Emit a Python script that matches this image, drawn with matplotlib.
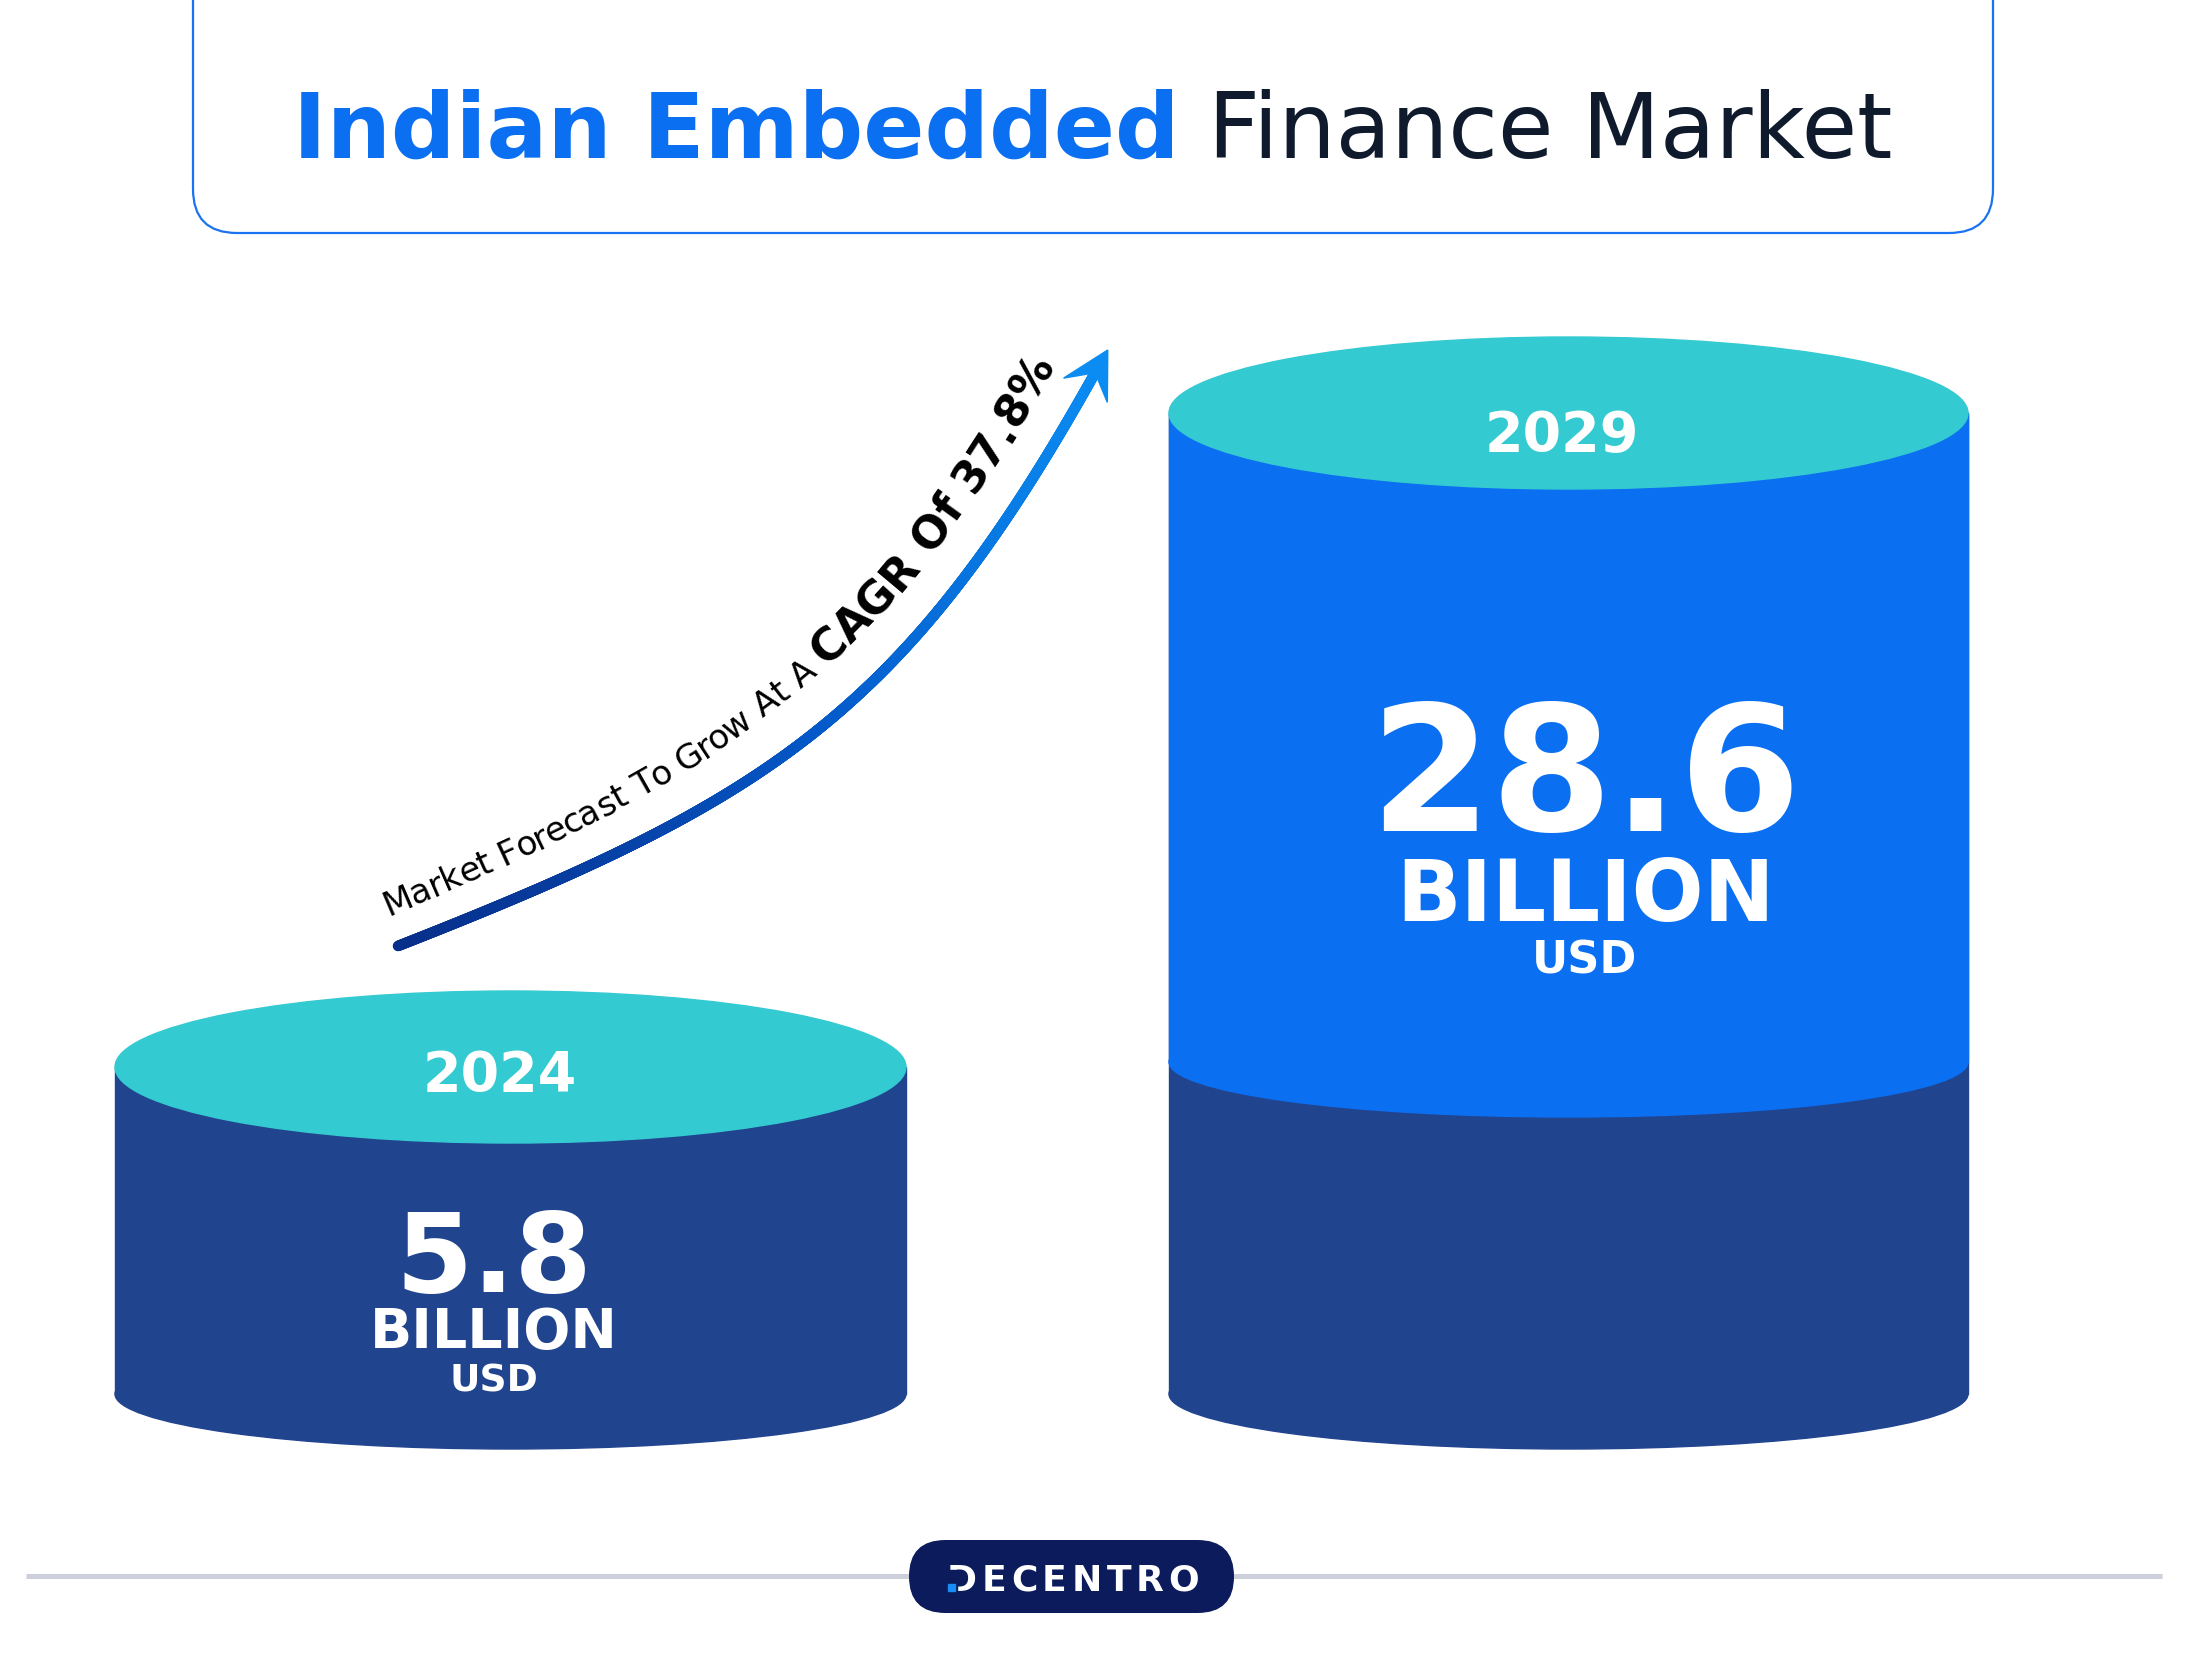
import numpy as np
import matplotlib
matplotlib.use('Agg')
import matplotlib.pyplot as plt
from matplotlib.patches import Ellipse, Rectangle, FancyBboxPatch, Polygon
from matplotlib.collections import LineCollection
from matplotlib.colors import LinearSegmentedColormap
from matplotlib.font_manager import FontProperties

# ---- data ----
title_bold = 'Indian Embedded'
title_regular = 'Finance Market'
years = ['2024', '2029']
values = [5.8, 28.6]
unit = 'BILLION'
currency = 'USD'
cagr = 37.8
growth_lead = 'Market Forecast To Grow At A '
growth_main = f'CAGR Of {cagr}%'
brand = 'DECENTRO'

# ---- style ----
FONT = 'DejaVu Sans'
BLUE = '#0b6ff2'
NAVY = '#21448f'
TEAL = '#34cad1'
DARK = '#0f1b2d'
LOGO_BG = '#0b1b5c'

W, H = 2188, 1681
fig = plt.figure(figsize=(W / 100, H / 100), dpi=100)
ax = fig.add_axes([0, 0, 1, 1])
ax.set_xlim(0, W)
ax.set_ylim(H, 0)
ax.axis('off')
renderer = fig.canvas.get_renderer()


def text_w(s, size, weight='normal'):
    fp = FontProperties(family=FONT, size=size, weight=weight)
    w, h, d = renderer.get_text_width_height_descent(s, fp, False)
    return w


def adv(ch, size, weight='normal'):
    return text_w('x' + ch + 'x', size, weight) - text_w('xx', size, weight)


# ---- title box ----
box = FancyBboxPatch((193, -120), 1800, 354, boxstyle='round,pad=0,rounding_size=44',
                     fc='white', ec='#1a73f0', lw=1.6, zorder=1)
ax.add_patch(box)

s0 = 60
total = text_w(title_bold, s0, 'bold') + adv(' ', s0) + text_w(title_regular, s0)
ts = s0 * 1601 / total
x0 = 1093.5 - 1601 / 2
ax.text(x0, 158, title_bold, fontsize=ts, fontweight='bold', color=BLUE,
        family=FONT, ha='left', va='baseline', zorder=3)
x1 = x0 + text_w(title_bold, ts, 'bold') + adv(' ', ts)
ax.text(x1, 158, title_regular, fontsize=ts, color=DARK,
        family=FONT, ha='left', va='baseline', zorder=3)

# ---- cylinders ----
cx = [510.5, 1568.5]
rx = [395.5, 399.5]
top_y = [1068, 414]
base_y = 1395
top_ry = 76
low_ry = 55

for i in range(len(years)):
    ax.add_patch(Ellipse((cx[i], base_y), 2 * rx[i], 2 * low_ry, color=NAVY, zorder=2))
    ax.add_patch(Rectangle((cx[i] - rx[i], top_y[i]), 2 * rx[i], base_y - top_y[i],
                           color=NAVY, zorder=2))
    if i > 0:
        # growth part above the 2024 level
        band = top_y[0] - 5
        ax.add_patch(Rectangle((cx[i] - rx[i], top_y[i]), 2 * rx[i], band - top_y[i],
                               color=BLUE, zorder=3))
        ax.add_patch(Ellipse((cx[i], band), 2 * rx[i], 2 * low_ry, color=BLUE, zorder=3))
    ax.add_patch(Ellipse((cx[i], top_y[i]), 2 * rx[i], 2 * top_ry, color=TEAL, zorder=4))

# label layout per cylinder
lab = [
    dict(yb=1091, yx=500, vb=1292, ub=1348, cb=1392, tx=494, ys=40, vs=80, us=40, cs=27),
    dict(yb=451, yx=1562, vb=831, ub=921, cb=974, tx=1585, ys=40, vs=126, us=61, cs=32),
]
for i, L in enumerate(lab):
    ax.text(L['yx'], L['yb'], years[i], fontsize=L['ys'], fontweight='bold', color='white',
            family=FONT, ha='center', va='baseline', zorder=5)
    ax.text(L['tx'], L['vb'], f'{values[i]:g}', fontsize=L['vs'], fontweight='bold',
            color='white', family=FONT, ha='center', va='baseline', zorder=5)
    ax.text(L['tx'], L['ub'], unit, fontsize=L['us'], fontweight='bold', color='white',
            family=FONT, ha='center', va='baseline', zorder=5)
    ax.text(L['tx'], L['cb'], currency, fontsize=L['cs'], fontweight='bold', color='white',
            family=FONT, ha='center', va='baseline', zorder=5)

# ---- growth arrow ----
P = np.array([[398, 947], [770, 801], [906, 715], [1100, 365]], dtype=float)
t = np.linspace(0, 1, 1500)[:, None]
curve = ((1 - t) ** 3 * P[0] + 3 * (1 - t) ** 2 * t * P[1]
         + 3 * (1 - t) * t ** 2 * P[2] + t ** 3 * P[3])
segs = np.stack([curve[:-1], curve[1:]], axis=1)
cmap = LinearSegmentedColormap.from_list('arr', ['#082f8a', '#0458c8', '#0a8cf2'])
lc = LineCollection(segs, colors=cmap(np.linspace(0, 1, len(segs))), linewidths=7.6,
                    capstyle='round', zorder=3)
ax.add_collection(lc)

d = (P[3] - P[2]) / np.linalg.norm(P[3] - P[2])
n = np.array([-d[1], d[0]])
head = np.array([P[3] + d * 16, P[3] - d * 30 + n * 25, P[3] - d * 10, P[3] - d * 30 - n * 25])
ax.add_patch(Polygon(head, closed=True, color='#0a8cf2', zorder=4))

# text that follows the arrow
tang = np.gradient(curve, axis=0)
tang /= np.linalg.norm(tang, axis=1)[:, None]
norm = np.stack([tang[:, 1], -tang[:, 0]], axis=1)
seg_len = np.linalg.norm(np.diff(curve, axis=0), axis=1)
u = np.concatenate([[0], np.cumsum(seg_len)]) / seg_len.sum()
off = np.interp(u, [0, 0.47, 1.0], [32, 44, 38])
path = curve + norm * off[:, None]
ptang = np.gradient(path, axis=0)
arc = np.concatenate([[0], np.cumsum(np.linalg.norm(np.diff(path, axis=0), axis=1))])


def fit_size(s, target, weight):
    base = 20
    return base * target / sum(adv(c, base, weight) for c in s)


pieces = [(growth_lead, fit_size(growth_lead, 505, 'normal'), 'normal'),
          (growth_main, fit_size(growth_main, 380, 'bold'), 'bold')]
pos = 2.0
for s, size, weight in pieces:
    for ch in s:
        w = adv(ch, size, weight)
        c = pos + w / 2
        x = np.interp(c, arc, path[:, 0])
        y = np.interp(c, arc, path[:, 1])
        k = min(np.searchsorted(arc, c), len(arc) - 1)
        ang = np.degrees(np.arctan2(-ptang[k, 1], ptang[k, 0]))
        if ch != ' ':
            ax.text(x, y, ch, fontsize=size, fontweight=weight, color='black', family=FONT,
                    rotation=ang, rotation_mode='anchor', ha='center', va='baseline', zorder=5)
        pos += w

# ---- footer ----
ax.plot([26, W - 26], [1577, 1577], color='#cdd0db', lw=3.6, solid_capstyle='butt', zorder=1)
pill = FancyBboxPatch((909, 1541), 325, 73, boxstyle='round,pad=0,rounding_size=36.5',
                      fc=LOGO_BG, ec='none', zorder=2)
ax.add_patch(pill)
ls = 26
widths = [adv(c, ls, 'bold') for c in brand]
gap = (252 - sum(widths)) / (len(brand) - 1)
bx = 947
for c, w in zip(brand, widths):
    ax.text(bx, 1591, c, fontsize=ls, fontweight='bold', color='white', family=FONT,
            ha='left', va='baseline', zorder=3)
    bx += w + gap
# logo mark: the D stem replaced by a blue dot
ax.add_patch(Rectangle((945, 1571), 12, 21, color=LOGO_BG, zorder=4))
ax.add_patch(Rectangle((948, 1584.5), 7, 7, color='#1a8cf5', zorder=5))

fig.savefig('out.png', dpi=100, facecolor='white')
